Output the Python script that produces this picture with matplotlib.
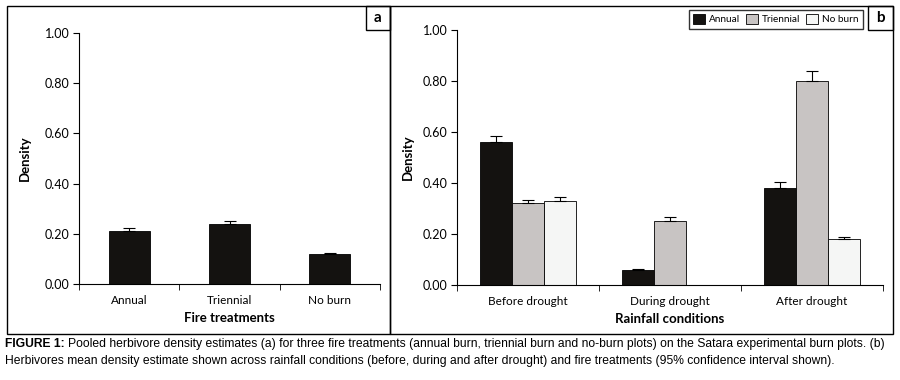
import numpy as np
import matplotlib.pyplot as plt
from matplotlib.patches import Rectangle

plt.rcParams['font.family'] = ['Lato', 'DejaVu Sans']

# panel a
fire = ['Annual', 'Triennial', 'No burn']
fire_dens = [0.21, 0.24, 0.12]
fire_err = [0.012, 0.012, 0.004]

# panel b
rain = ['Before drought', 'During drought', 'After drought']
treat = ['Annual', 'Triennial', 'No burn']
rain_dens = {
    'Annual': [0.56, 0.06, 0.38],
    'Triennial': [0.32, 0.25, 0.80],
    'No burn': [0.33, 0.0, 0.18],
}
rain_err = {
    'Annual': [0.025, 0.003, 0.022],
    'Triennial': [0.015, 0.015, 0.04],
    'No burn': [0.015, 0.0, 0.01],
}
colours = {'Annual': '#141210', 'Triennial': '#c8c4c3', 'No burn': '#f5f6f5'}

W, H = 900, 380
fig = plt.figure(figsize=(9, 3.8), dpi=100)


def px_axes(x0, y0, x1, y1):
    return fig.add_axes([x0 / W, 1 - y1 / H, (x1 - x0) / W, (y1 - y0) / H])


def style(ax, xlabels, xlabel):
    ax.set_ylim(0, 1)
    ax.set_xlim(0, 3)
    ax.set_yticks(np.arange(0, 1.01, 0.2))
    ax.set_yticklabels(['%.2f' % v for v in np.arange(0, 1.01, 0.2)], fontsize=9)
    ax.set_xticks([0.5, 1.5, 2.5])
    ax.set_xticklabels(xlabels, fontsize=8.5)
    ax.set_xticks([0, 1, 2, 3], minor=True)
    ax.tick_params(axis='x', which='major', length=0, pad=8)
    ax.tick_params(axis='x', which='minor', length=4, direction='out')
    ax.tick_params(axis='y', length=4, direction='out', pad=3)
    for s in ['top', 'right']:
        ax.spines[s].set_visible(False)
    ax.set_xlabel(xlabel, fontsize=9.5, fontweight='bold', labelpad=4)
    ax.set_ylabel('Density', fontsize=9.5, fontweight='bold', labelpad=10)


axa = px_axes(79, 33, 380, 284)
xa = np.arange(3) + 0.5
axa.bar(xa, fire_dens, width=0.41, color=colours['Annual'], edgecolor='black', lw=0.6,
        yerr=[np.zeros(3), fire_err], error_kw=dict(ecolor='black', capsize=4, elinewidth=0.8, capthick=0.8))
style(axa, fire, 'Fire treatments')

axb = px_axes(457, 30, 883, 285)
bw = 0.225
for i, t in enumerate(treat):
    xb = np.arange(3) + 0.5 + (i - 1) * bw
    vals = np.array(rain_dens[t])
    errs = np.array(rain_err[t])
    axb.bar(xb, vals, width=bw, color=colours[t], edgecolor='black', lw=0.6, label=t)
    m = vals > 0
    axb.errorbar(xb[m], vals[m], yerr=[np.zeros(m.sum()), errs[m]], fmt='none',
                 ecolor='black', capsize=4, elinewidth=0.8, capthick=0.8)
style(axb, rain, 'Rainfall conditions')
axb.yaxis.labelpad = 6
axb.legend(loc='upper right', bbox_to_anchor=((863 - 457) / 426, 1 + (30 - 10) / 255), ncol=3,
           fontsize=7.2, frameon=True, fancybox=False, edgecolor='black', handlelength=1.2,
           handleheight=1.2, handletextpad=0.4, columnspacing=0.6, borderpad=0.4,
           borderaxespad=0)

# frames and panel letters
for x0, x1 in [(7, 390), (390, 893)]:
    fig.patches.append(Rectangle((x0 / W, 1 - 334 / H), (x1 - x0) / W, 328 / H,
                                 transform=fig.transFigure, fill=False, lw=1, ec='black'))
for x0, x1, lab in [(366, 390, 'a'), (868, 893, 'b')]:
    fig.patches.append(Rectangle((x0 / W, 1 - 30 / H), (x1 - x0) / W, 24 / H,
                                 transform=fig.transFigure, fill=False, lw=1, ec='black'))
    fig.text((x0 + x1) / 2 / W, 1 - 18 / H, lab, ha='center', va='center',
             fontsize=11, fontweight='bold')

cap_font = ['Liberation Sans Narrow', 'Liberation Sans', 'DejaVu Sans']
cap_size = 8.7
t1 = fig.text(5 / W, 1 - 344 / H, 'FIGURE 1:', fontsize=cap_size, fontweight='bold', va='center', family=cap_font)
r = fig.canvas.get_renderer()
bb = t1.get_window_extent(renderer=r)
fig.text((bb.x1 + 3) / W, 1 - 344 / H,
         'Pooled herbivore density estimates (a) for three fire treatments (annual burn, triennial burn and '
         'no-burn plots) on the Satara experimental burn plots. (b)',
         fontsize=cap_size, va='center', family=cap_font)
fig.text(5 / W, 1 - 361 / H,
         'Herbivores mean density estimate shown across rainfall conditions (before, during and after drought) '
         'and fire treatments (95% confidence interval shown).',
         fontsize=cap_size, va='center', family=cap_font)

fig.savefig('out.png', dpi=100)
